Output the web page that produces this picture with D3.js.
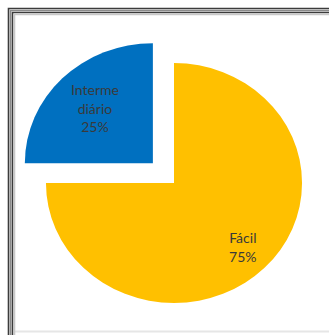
<html>
<head>
    <script src="https://d3js.org/d3.v7.min.js"></script>
    <style>
        body { margin: 0; background: #fff; }
    </style>
</head>
<body>
    <div id="chart"></div>
    <script>
        // data
        var categories = ["Fácil", "Intermediário"];
        var values = [75, 25];
        var labelLines = [["Fácil"], ["Interme", "diário"]];
        var colors = ["#FFC000", "#0070C0"];

        var width = 329, height = 335;
        var cx = 174, cy = 183;
        var radius = 120, stretchX = 1.067;
        var explode = [0, 28];
        var labelFactor = [0.76, 0.64];

        var data = categories.map(function(c, i) {
            return { category: c, value: values[i], lines: labelLines[i] };
        });
        var total = d3.sum(values);

        var svg = d3.select("#chart").append("svg")
            .attr("width", width)
            .attr("height", height);

        // window frame
        svg.append("rect").attr("x", 0).attr("y", 0).attr("width", width).attr("height", height).attr("fill", "#fff");
        svg.append("line").attr("x1", 15).attr("x2", width).attr("y1", 331.5).attr("y2", 331.5)
            .attr("stroke", "#e6e6e6").attr("stroke-width", 2);
        var frame = [["#3c3c3c", 8.5], ["#8a8a8a", 10.5], ["#3c3c3c", 12.5], ["#c8c8c8", 14.5]];
        frame.forEach(function(f) {
            svg.append("path")
                .attr("d", "M" + f[1] + "," + height + "V" + f[1] + "H" + width)
                .attr("fill", "none").attr("stroke", f[0]).attr("stroke-width", 1.6);
        });

        var pie = d3.pie().value(function(d) { return d.value; }).sort(null);
        var arc = d3.arc().innerRadius(0).outerRadius(radius);

        var g = svg.append("g")
            .attr("transform", "translate(" + cx + "," + cy + ")");

        var slices = g.selectAll("g.slice").data(pie(data)).enter().append("g")
            .attr("class", "slice")
            .attr("transform", function(d, i) {
                var a = (d.startAngle + d.endAngle) / 2;
                var dx = Math.sin(a) * explode[i] * stretchX;
                var dy = -Math.cos(a) * explode[i];
                return "translate(" + dx + "," + dy + ")";
            });

        slices.append("path")
            .attr("d", arc)
            .attr("transform", "scale(" + stretchX + ",1)")
            .attr("fill", function(d, i) { return colors[i]; });

        var text = slices.append("text")
            .attr("transform", function(d, i) {
                var r = radius * labelFactor[i];
                var c = d3.arc().innerRadius(r).outerRadius(r).centroid(d);
                return "translate(" + (c[0] * stretchX) + "," + c[1] + ")";
            })
            .attr("text-anchor", "middle")
            .attr("font-family", "Lato, 'Open Sans', sans-serif")
            .attr("font-size", 14)
            .attr("fill", "#3a3a3a");

        text.each(function(d) {
            var lines = d.data.lines.concat([Math.round(d.data.value / total * 100) + "%"]);
            var t = d3.select(this);
            var lh = 18.5;
            lines.forEach(function(l, k) {
                t.append("tspan")
                    .attr("x", 0)
                    .attr("y", (k - (lines.length - 1) / 2) * lh)
                    .attr("dy", "0.35em")
                    .text(l);
            });
        });
    </script>
</body>
</html>
